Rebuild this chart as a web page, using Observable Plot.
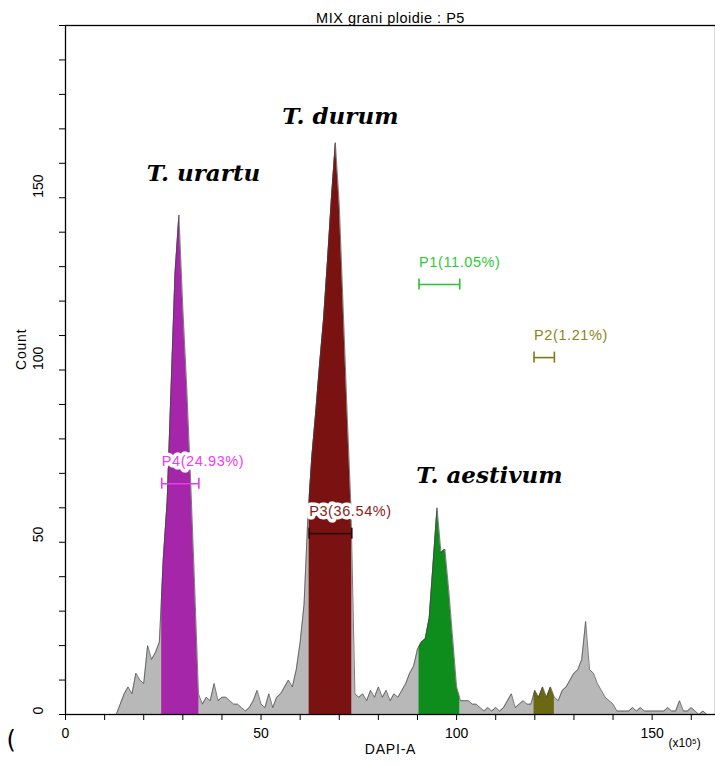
<!DOCTYPE html>
<html>
<head>
<meta charset="utf-8">
<script src="https://cdn.jsdelivr.net/npm/d3@7"></script>
<script src="https://cdn.jsdelivr.net/npm/@observablehq/plot@0.6"></script>
<style>
  html, body { margin: 0; padding: 0; background: #fff; }
  #chart { width: 715px; height: 766px; overflow: hidden; }
</style>
</head>
<body>
<div id="chart"></div>
<script>
// ---- Data ----
const chartTitle = "MIX grani ploidie : P5";
const xLabel = "DAPI-A";
const yLabel = "Count";
const xUnit = "(x10\u2075)";
const panelMark = "(";

// tick positions and labels
const xTicks = d3.range(0, 161, 10);
const xTickLabels = [0, 50, 100, 150];
const yTicks = d3.range(0, 201, 10);
const yTickLabels = [0, 50, 100, 150];

// DAPI-A channel (bin start) and counts per bin (1 unit wide)
const binStart = 12;
const counts = [
  0, 0, 3, 6, 8, 6, 12, 10, 9, 20,              // 12-21
  16, 18, 21, 45, 62, 95, 128, 145, 118, 95,    // 22-31
  68, 38, 6, 3, 5, 4, 9, 4, 5, 5,               // 32-41
  4, 3, 3, 2, 1, 2, 4, 7, 3, 2,                 // 42-51
  6, 2, 5, 6, 8, 10, 8, 13, 21, 32,             // 52-61
  58, 75, 88, 102, 115, 132, 150, 166, 148, 118,// 62-71
  88, 60, 6, 5, 6, 4, 7, 5, 8, 5,               // 72-81
  7, 4, 6, 5, 7, 9, 12, 14, 19, 21,             // 82-91
  22, 28, 44, 60, 47, 48, 36, 22, 8, 4,         // 92-101
  4, 4, 3, 3, 2, 1, 2, 1, 2, 1,                 // 102-111
  2, 4, 6, 2, 3, 4, 3, 3, 7, 5,                 // 112-121
  8, 5, 8, 5, 4, 7, 8, 10, 12, 13,              // 122-131
  16, 27, 13, 12, 9, 7, 5, 4, 3, 1,             // 132-141
  1, 1, 1, 2, 1, 2, 1, 1, 1, 1,                 // 142-151
  1, 1, 2, 1, 1, 4, 1, 1, 2, 1,                 // 152-161
  0, 1, 0, 0                                    // 162-165
];

// Gates
const gateNames = ["P4", "P3", "P1", "P2"];
const gatePct = ["24.93", "36.54", "11.05", "1.21"];
const gateLo = [24.6, 62.3, 90.4, 119.8];
const gateHi = [34.1, 73.2, 100.8, 125.0];
const gateLevel = [67, 52.5, 124.8, 103.6];
const gateFill = ["#a526a8", "#7a1212", "#0e8c1c", "#6b6814"];
const gateTextColor = ["#f03cf0", "#8e1c1c", "#2ccb36", "#8c8616"];
const gateBarColor = ["#e83ae8", "#2a0808", "#2cbf36", "#7f7a14"];

// Species annotations
const speciesNames = ["T. urartu", "T. durum", "T. aestivum"];
const speciesX = [35.3, 70.3, 108.4];
const speciesY = [157, 173.6, 69.3];

// ---- Build tables ----
const hist = counts.map((c, i) => ({x: binStart + i, count: c}));
const gates = gateNames.map((g, i) => ({
  name: g, label: `${g}(${gatePct[i]}%)`, lo: gateLo[i], hi: gateHi[i],
  y: gateLevel[i], fill: gateFill[i], text: gateTextColor[i], bar: gateBarColor[i]
}));
const species = speciesNames.map((s, i) => ({name: s, x: speciesX[i], y: speciesY[i]}));

const gateAreas = gates.map(g => Plot.areaY(hist, {
  x: "x", y: "count", fill: g.fill, ariaDescription: "gate-" + g.name
}));

const chart = Plot.plot({
  width: 715,
  height: 766,
  marginTop: 25,
  marginLeft: 65,
  marginRight: 0,
  marginBottom: 52,
  style: {fontFamily: "Liberation Sans, Arial, sans-serif", background: "#fff"},
  x: {domain: [0, 166.2]},
  y: {domain: [0, 200]},
  marks: [
    Plot.areaY(hist, {x: "x", y: "count", fill: "#b8b8b8"}),
    ...gateAreas,
    Plot.lineY(hist, {x: "x", y: "count", stroke: "#444", strokeWidth: 0.7}),
    // gate labels (with white background like the cytometer software)
    Plot.text(gates, {x: "lo", y: "y", text: "label", fill: "text", textAnchor: "start",
      dy: -22, fontSize: 14.5, stroke: "white", strokeWidth: 7, strokeLinejoin: "round",
      paintOrder: "stroke", ariaDescription: "gate-label"}),
    // gate bars
    Plot.ruleY(gates, {x1: "lo", x2: "hi", y: "y", stroke: "bar", strokeWidth: 1.6}),
    Plot.ruleX(gates, {x: "lo", y1: d => d.y - 1.6, y2: d => d.y + 1.6, stroke: "bar", strokeWidth: 1.6}),
    Plot.ruleX(gates, {x: "hi", y1: d => d.y - 1.6, y2: d => d.y + 1.6, stroke: "bar", strokeWidth: 1.6}),
    // species labels
    Plot.text(species, {x: "x", y: "y", text: "name", fontSize: 23, fontWeight: "bold",
      fontStyle: "italic", fontFamily: "DejaVu Serif, serif", fill: "#000"}),
    // axes
    Plot.axisX({ticks: xTicks, tickFormat: d => xTickLabels.includes(d) ? d : "",
      tickSize: 6, tickPadding: 8, fontSize: 14, label: null}),
    Plot.axisY({ticks: yTicks, tickFormat: () => "", tickSize: 6, label: null}),
    Plot.text(yTickLabels, {y: d => d, text: d => String(d), frameAnchor: "left", dx: -27,
      rotate: -90, fontSize: 14}),
    Plot.text([xLabel], {frameAnchor: "bottom", text: d => d, dy: 39, fontSize: 14, ariaDescription: "wide"}),
    Plot.text([yLabel], {frameAnchor: "left", text: d => d, dx: -44, rotate: -90, fontSize: 14, ariaDescription: "wide"}),
    Plot.text([xUnit], {frameAnchor: "bottom-right", text: d => d, dx: -47, dy: 32, textAnchor: "start", fontSize: 12}),
    Plot.text([panelMark], {frameAnchor: "bottom-left", text: d => d, dx: -59, dy: 33, fontSize: 24, fontFamily: "DejaVu Sans, sans-serif"}),
    Plot.text([chartTitle], {frameAnchor: "top", text: d => d, dy: -13, fontSize: 14.5, ariaDescription: "title"}),
    Plot.frame({stroke: "#000", strokeWidth: 1.3})
  ]
});

// Clip each gate's coloured area to its gate range (using the plot's own x scale)
const xs = chart.scale("x");
const sel = d3.select(chart);
const defs = sel.insert("defs", ":first-child");
gates.forEach(g => {
  const x0 = xs.apply(g.lo), x1 = xs.apply(g.hi);
  defs.append("clipPath").attr("id", "gclip-" + g.name).attr("clipPathUnits", "userSpaceOnUse")
    .append("rect").attr("x", x0).attr("y", 0).attr("width", x1 - x0).attr("height", 766);
  sel.selectAll(`g[aria-description="gate-${g.name}"]`).attr("clip-path", `url(#gclip-${g.name})`);
});
sel.selectAll('g[aria-description="title"] text').style("letter-spacing", "0.5px");
sel.selectAll('g[aria-description="gate-label"] text').style("letter-spacing", "0.6px");
sel.selectAll('g[aria-description="wide"] text').style("letter-spacing", "0.8px");

document.getElementById("chart").appendChild(chart);
</script>
</body>
</html>
